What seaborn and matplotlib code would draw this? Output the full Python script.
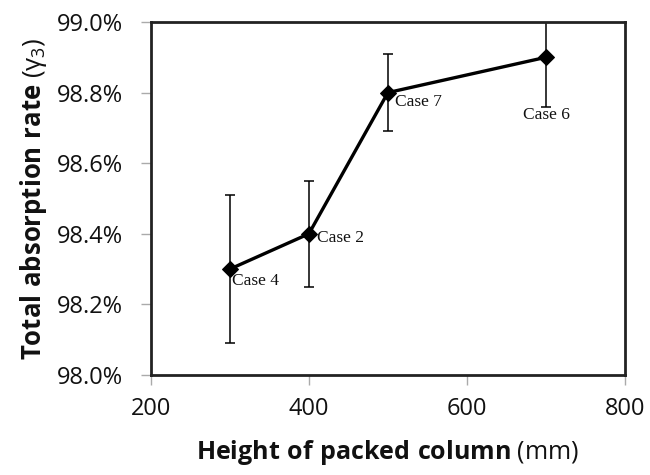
import matplotlib
matplotlib.use("Agg")
import matplotlib.pyplot as plt
import seaborn as sns
import pandas as pd
from matplotlib.ticker import FuncFormatter

heights = [300, 400, 500, 700]
rates = [98.30, 98.40, 98.80, 98.90]
errors = [0.21, 0.15, 0.11, 0.14]
cases = ["Case 4", "Case 2", "Case 7", "Case 6"]
label_offsets = [(2, -4), (8, -4), (7, -9), (0, -58)]
label_align = [("left", "top"), ("left", "center"), ("left", "center"), ("center", "center")]
xticks = [200, 400, 600, 800]
yticks = [98.0, 98.2, 98.4, 98.6, 98.8, 99.0]

sns.set_theme(style="white")
plt.rcParams["font.family"] = ["Open Sans", "DejaVu Sans"]
plt.rcParams["mathtext.fontset"] = "custom"
plt.rcParams["mathtext.rm"] = "Open Sans"
plt.rcParams["mathtext.it"] = "Open Sans"
plt.rcParams["mathtext.bf"] = "Open Sans:bold"

df = pd.DataFrame({"h": heights, "r": rates})

fig = plt.figure(figsize=(6.5, 4.75), dpi=100)
ax = fig.add_axes([0.232, 0.2105, 0.7295, 0.7432])

ax.errorbar(heights, rates, yerr=errors, fmt="none", ecolor="black",
            elinewidth=1.1, capsize=3.5, capthick=1.1, zorder=2)
sns.lineplot(data=df, x="h", y="r", ax=ax, color="black", linewidth=2.4,
             marker="D", markersize=8, markeredgecolor="black",
             markerfacecolor="black", zorder=3)

for x, y, c, off, (ha, va) in zip(heights, rates, cases, label_offsets, label_align):
    ax.annotate(c, (x, y), xytext=off, textcoords="offset pixels", ha=ha, va=va,
                fontsize=12.5, family="Liberation Serif", color="#111111")

ax.set_xlim(200, 800)
ax.set_ylim(98.0, 99.0)
ax.set_xticks(xticks)
ax.set_yticks(yticks)
ax.yaxis.set_major_formatter(FuncFormatter(lambda v, p: f"{v:.1f}%"))

for s in ax.spines.values():
    s.set_visible(True)
    s.set_color("#222222")
    s.set_linewidth(2.0)

ax.tick_params(axis="both", which="major", direction="out", length=7, width=1,
               color="#aaaaaa", labelsize=17, labelcolor="#111111")
ax.tick_params(axis="y", pad=13)
ax.tick_params(axis="x", pad=9)
ax.tick_params(left=True, bottom=True)

ax.set_xlabel(r"$\mathbf{Height\ of\ packed\ column}$ (mm)", fontsize=18,
              color="#111111", labelpad=12)
ax.set_ylabel(r"$\mathbf{Total\ absorption\ rate}$ ($\gamma_3$)", fontsize=18.5,
              color="#111111", labelpad=6)

fig.savefig("out.png", dpi=100)
